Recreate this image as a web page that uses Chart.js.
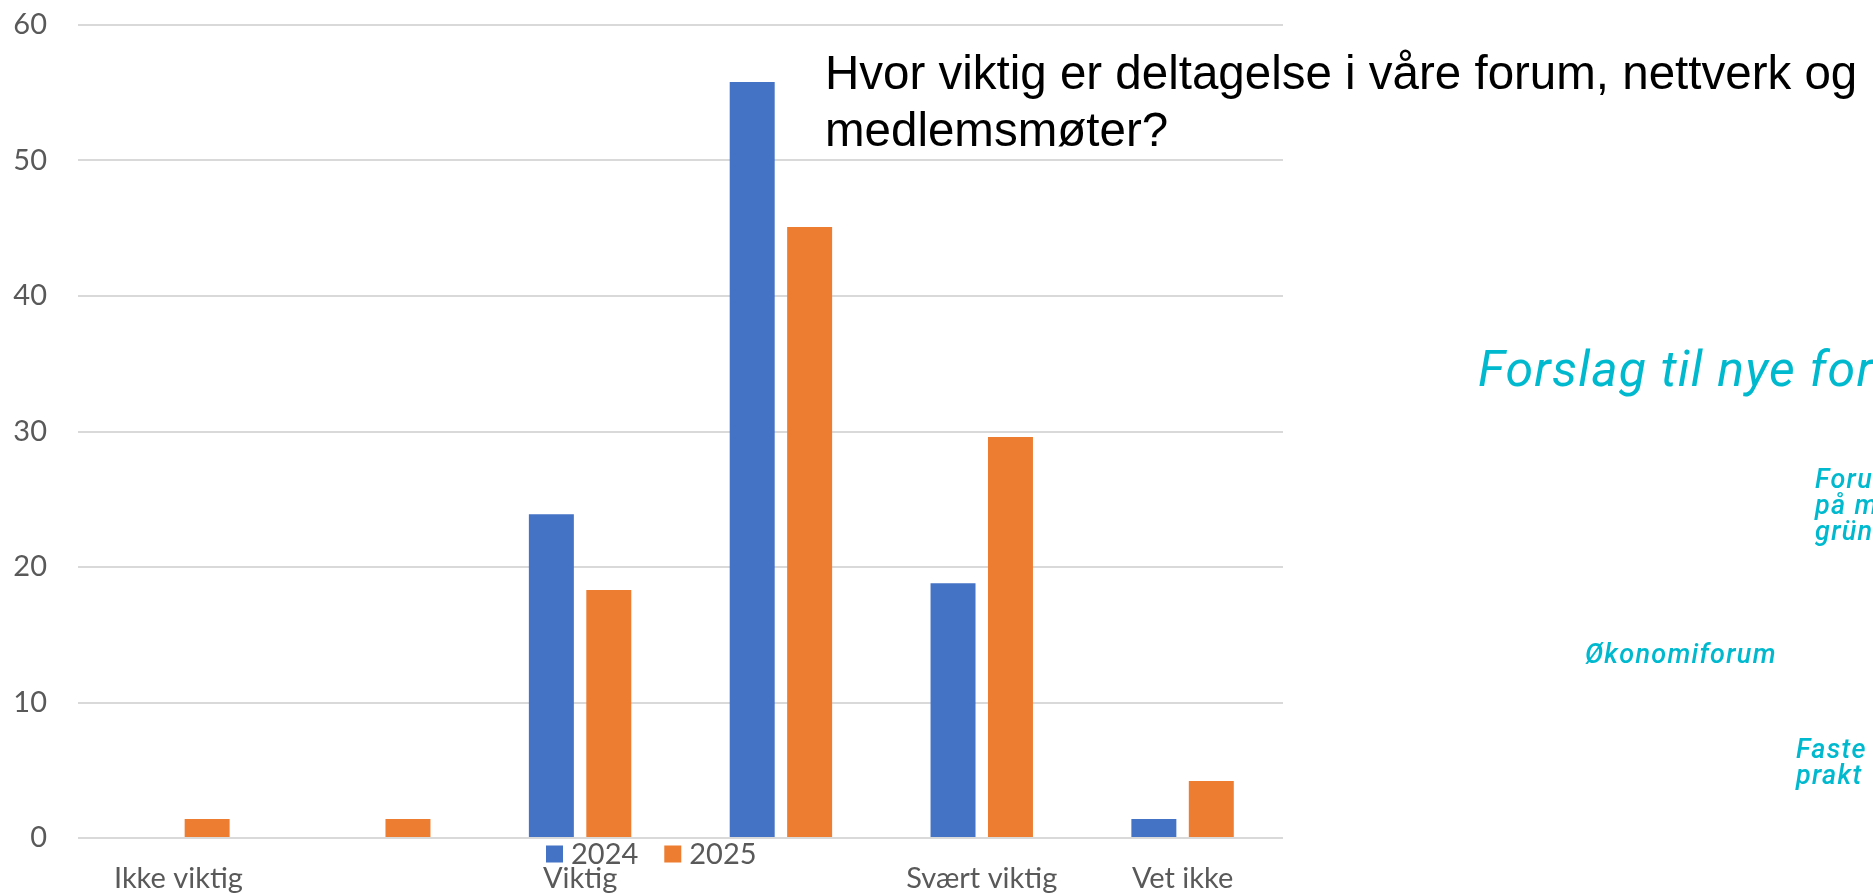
<!DOCTYPE html>
<html>
<head>
<meta charset="utf-8">
<script src="https://cdn.jsdelivr.net/npm/chart.js@4/dist/chart.umd.min.js"></script>
<style>
  html, body { margin: 0; padding: 0; background: #ffffff; overflow: hidden; }
  #wrap { position: relative; width: 1873px; height: 894px; overflow: hidden; }
  canvas { position: absolute; left: 0; top: 0; }
  .t { position: absolute; white-space: nowrap; }
  #title { left: 825px; top: 44px; font-family: "Liberation Sans", Arial, sans-serif; font-size: 47.5px; line-height: 57px; color: #000000; }
  .cy { color: #00B9CE; font-family: Roboto, "Open Sans", sans-serif; font-style: italic; }
  .big { font-size: 50px; line-height: 50px; font-weight: 400; letter-spacing: 1.2px; }
  .small { font-size: 27px; line-height: 26px; font-weight: 500; letter-spacing: 1.3px; }
</style>
</head>
<body>
<div id="wrap">
  <canvas id="c" width="1873" height="894"></canvas>
  <div id="title" class="t">Hvor viktig er deltagelse i våre forum, nettverk og<br>medlemsmøter?</div>
  <div class="t cy big" style="left:1478px; top:344px;">Forslag til nye for</div>
  <div class="t cy small" style="left:1815px; top:466px;">Foru<br>på m<br>grün</div>
  <div class="t cy small" style="left:1585px; top:641px;">Økonomiforum</div>
  <div class="t cy small" style="left:1796px; top:736px;">Faste<br>prakt</div>
</div>
<script>
// ---- data ----
const categories = ['Ikke viktig', '', 'Viktig', '', 'Svært viktig', 'Vet ikke'];
const seriesNames = ['2024', '2025'];
const values2024 = [0, 0, 23.9, 55.8, 18.8, 1.4];
const values2025 = [1.4, 1.4, 18.3, 45.1, 29.6, 4.2];
const yTicks = [0, 10, 20, 30, 40, 50, 60];
const seriesColors = ['#4472C4', '#ED7D31'];

const labelFont = { family: 'Lato, "Open Sans", sans-serif', size: 29 };
const textColor = '#595959';

// legend drawn between axis and category labels, like the original
const overlayLegend = {
  id: 'overlayLegend',
  afterDraw(chart, args, opts) {
    const ctx = chart.ctx;
    ctx.save();
    ctx.font = `${labelFont.size}px ${labelFont.family}`;
    ctx.textBaseline = 'middle';
    ctx.textAlign = 'left';
    let x = opts.x;
    const cy = opts.y;
    const sq = opts.box;
    chart.data.datasets.forEach((ds) => {
      ctx.fillStyle = ds.backgroundColor;
      ctx.fillRect(x, cy - sq / 2, sq, sq);
      x += sq + opts.gap;
      ctx.fillStyle = textColor;
      ctx.fillText(ds.label, x, cy + 1);
      x += ctx.measureText(ds.label).width + opts.itemGap;
    });
    ctx.restore();
  }
};

new Chart(document.getElementById('c'), {
  type: 'bar',
  data: {
    labels: categories,
    datasets: [
      { label: seriesNames[0], data: values2024, backgroundColor: seriesColors[0], borderWidth: 0,
        categoryPercentage: 0.572, barPercentage: 0.783 },
      { label: seriesNames[1], data: values2025, backgroundColor: seriesColors[1], borderWidth: 0,
        categoryPercentage: 0.572, barPercentage: 0.783 }
    ]
  },
  options: {
    responsive: false,
    animation: false,
    devicePixelRatio: 1,
    layout: { padding: { left: 0, right: 590, top: 25, bottom: 0 } },
    plugins: {
      legend: { display: false },
      tooltip: { enabled: false },
      title: { display: false },
      overlayLegend: { x: 546, y: 854, box: 17, gap: 8, itemGap: 26 }
    },
    scales: {
      x: {
        grid: { display: false, drawTicks: false },
        border: { display: false },
        ticks: { color: textColor, font: labelFont, padding: 23, maxRotation: 0, autoSkip: false },
        afterFit(s) { s.height = 56; s.paddingLeft = 0; s.paddingRight = 0; }
      },
      y: {
        min: yTicks[0],
        max: yTicks[yTicks.length - 1],
        grid: { color: '#D9D9D9', lineWidth: 2, drawTicks: false },
        border: { display: false },
        ticks: { stepSize: yTicks[1] - yTicks[0], color: textColor, font: labelFont, padding: 31 },
        afterFit(s) { s.width = 78; s.paddingTop = 0; s.paddingBottom = 0; }
      }
    }
  },
  plugins: [overlayLegend]
});
</script>
</body>
</html>
